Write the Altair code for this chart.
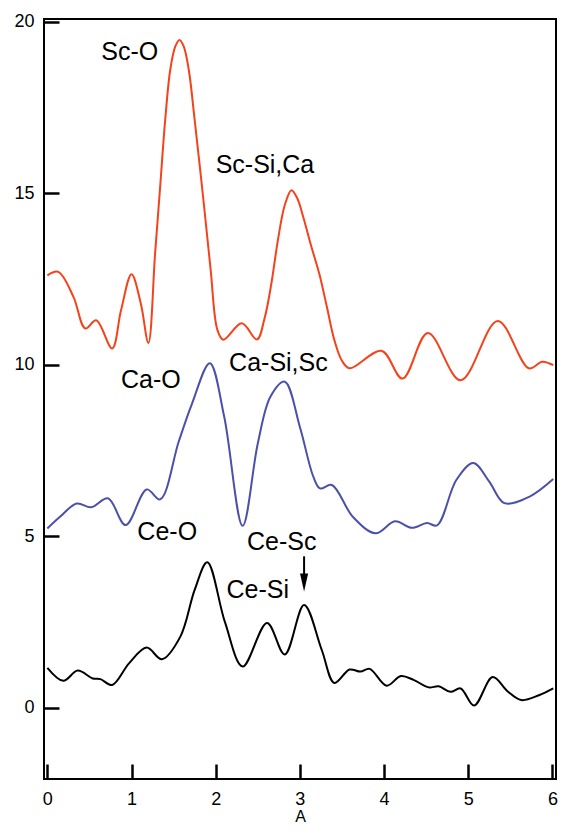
import altair as alt
import pandas as pd

# Sc curve (red)
red_x = [0.00, 0.13, 0.31, 0.45, 0.58, 0.77, 0.875, 1.00, 1.11, 1.20, 1.28, 1.34, 1.40, 1.46, 1.52, 1.57,
         1.62, 1.68, 1.75, 1.85, 1.94, 2.02, 2.09, 2.31, 2.49, 2.58, 2.66, 2.74, 2.82, 2.90, 2.97, 3.04,
         3.13, 3.23, 3.32, 3.41, 3.50, 3.59, 3.97, 4.22, 4.52, 4.91, 5.35, 5.72, 5.88, 6.01]
red_y = [12.61, 12.71, 11.98, 11.06, 11.30, 10.48, 11.59, 12.64, 11.79, 10.64, 13.25, 15.19, 17.14, 18.60, 19.28, 19.47,
         19.28, 18.60, 17.14, 14.90, 12.77, 11.02, 10.73, 11.21, 10.74, 11.35, 12.35, 13.65, 14.65, 15.09, 14.85, 14.31,
         13.50, 12.66, 11.70, 10.72, 10.12, 9.90, 10.41, 9.60, 10.93, 9.55, 11.28, 9.90, 10.09, 9.99]

# Ca curve (blue)
blue_x = [0.00, 0.15, 0.35, 0.52, 0.72, 0.93, 1.18, 1.34, 1.56, 1.72, 1.93, 2.10, 2.32, 2.50, 2.65,
          2.82, 3.00, 3.16, 3.24, 3.38, 3.63, 3.90, 4.13, 4.33, 4.51, 4.63, 4.86, 5.06, 5.25, 5.43,
          5.73, 6.01]
blue_y = [5.23, 5.57, 5.96, 5.85, 6.11, 5.33, 6.37, 6.08, 7.76, 8.88, 10.05, 8.50, 5.31, 7.71, 9.07,
          9.51, 8.19, 6.74, 6.40, 6.50, 5.57, 5.09, 5.44, 5.25, 5.39, 5.32, 6.65, 7.14, 6.60, 5.97,
          6.16, 6.67]

# Ce curve (black)
black_x = [0.00, 0.19, 0.36, 0.54, 0.63, 0.77, 0.97, 1.18, 1.36, 1.58, 1.75, 1.90, 2.11, 2.32, 2.61,
           2.82, 3.05, 3.26, 3.41, 3.59, 3.72, 3.83, 4.03, 4.20, 4.35, 4.53, 4.65, 4.79, 4.91, 5.07,
           5.29, 5.47, 5.63, 5.84, 6.01]
black_y = [1.17, 0.79, 1.09, 0.86, 0.84, 0.67, 1.30, 1.76, 1.42, 2.08, 3.44, 4.25, 2.50, 1.21, 2.48,
           1.56, 3.00, 1.69, 0.73, 1.12, 1.06, 1.14, 0.65, 0.93, 0.82, 0.60, 0.63, 0.47, 0.57, 0.07,
           0.90, 0.48, 0.23, 0.37, 0.57]

# annotations
label_text = ["Sc-O", "Sc-Si,Ca", "Ca-O", "Ca-Si,Sc", "Ce-O", "Ce-Sc", "Ce-Si"]
label_x = [0.978, 2.585, 1.23, 2.745, 1.424, 2.785, 2.50]
label_y = [19.12, 15.83, 9.56, 10.06, 5.12, 4.85, 3.45]

arrow_x = [3.05]
arrow_y_top = [4.42]
arrow_y_bot = [3.88]
arrow_head_y = [3.66]

x_ticks = [0, 1, 2, 3, 4, 5, 6]
y_ticks = [0, 5, 10, 15, 20]

FONT = "Liberation Sans"

xs = alt.Scale(domain=[-0.04, 6.043], nice=False, zero=False)
ys = alt.Scale(domain=[-2.07, 20.08], nice=False, zero=False)

x_axis = alt.Axis(values=x_ticks, title="A", format="d", offset=-15, labelPadding=11,
                  titlePadding=0, titleFontSize=16)
y_axis = alt.Axis(values=y_ticks, title=None, format="d", offset=-15, labelPadding=10)

X = alt.X("x:Q", scale=xs, axis=x_axis)
Y = alt.Y("y:Q", scale=ys, axis=y_axis)


def curve(xv, yv, color):
    df = pd.DataFrame({"x": xv, "y": yv})
    return alt.Chart(df).mark_line(color=color, strokeWidth=2, interpolate="catmull-rom").encode(
        x=X, y=Y
    )


red = curve(red_x, red_y, "#f4421c")
blue = curve(blue_x, blue_y, "#4b50a8")
black = curve(black_x, black_y, "#000000")

labels = alt.Chart(pd.DataFrame({"t": label_text, "x": label_x, "y": label_y})).mark_text(
    font=FONT, fontSize=25, color="black", align="center", baseline="middle"
).encode(x=X, y=Y, text="t:N")

shaft = alt.Chart(pd.DataFrame({"x": arrow_x, "y": arrow_y_top, "y2": arrow_y_bot})).mark_rule(
    color="black", strokeWidth=2
).encode(x=X, y=Y, y2="y2:Q")

head = alt.Chart(pd.DataFrame({"x": arrow_x, "y": arrow_head_y})).mark_point(
    shape="M-0.45,-1L0.45,-1L0,1Z", size=324, filled=True, color="black", opacity=1, strokeWidth=0
).encode(x=X, y=Y)

chart = alt.layer(red, blue, black, labels, shaft, head).properties(
    width=512, height=760, background="white",
    autosize=alt.AutoSizeParams(type="none"),
    padding={"left": 36, "top": 11, "right": 2, "bottom": 46},
).configure_view(
    stroke="black", strokeWidth=2
).configure_axis(
    grid=False, domain=False, tickSize=15, tickWidth=2.5, tickColor="black",
    labelFontSize=18, labelFont=FONT, labelColor="black", labelFlush=False,
    titleFont=FONT, titleFontSize=18, titleFontWeight="normal", titleColor="black",
)

chart.save("out.html", embed_options={"renderer": "svg", "actions": False})
